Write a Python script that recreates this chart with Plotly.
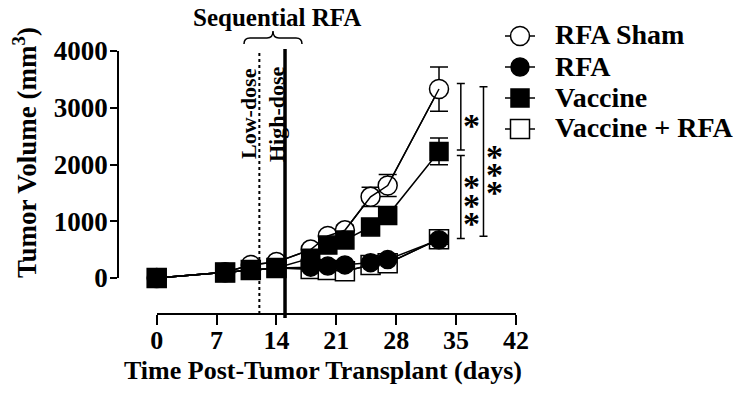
import plotly.graph_objects as go

# ---------------- data ----------------
days = [0, 8, 11, 14, 18, 20, 22, 25, 27, 33]
sham = [0, 100, 230, 280, 500, 740, 840, 1430, 1630, 3330]
sham_err = [0, 20, 30, 40, 60, 80, 90, 170, 195, 390]
rfa = [0, 95, 140, 175, 190, 210, 230, 270, 325, 675]
rfa_err = [0, 15, 20, 25, 30, 30, 35, 40, 50, 80]
vaccine = [0, 96, 140, 175, 350, 580, 670, 900, 1100, 2230]
vaccine_err = [0, 20, 25, 30, 50, 70, 80, 100, 120, 235]
vacc_rfa = [0, 95, 140, 175, 160, 140, 120, 230, 260, 685]
vacc_rfa_err = [0, 15, 20, 25, 30, 30, 30, 40, 50, 90]

series_names = ["RFA Sham", "RFA", "Vaccine", "Vaccine + RFA"]
x_ticks = [0, 7, 14, 21, 28, 35, 42]
y_ticks = [0, 1000, 2000, 3000, 4000]
low_dose_day = 12
high_dose_day = 15

# significance brackets: (x day, y from, y to)
sig_brackets = [(35.55, 2257, 3426), (35.55, 696, 2158), (38.2, 737, 3368)]
# stars: (x day, y value)
sig_stars = [(36.85, 2830), (36.85, 1749), (36.85, 1426), (36.85, 1105),
             (39.45, 2275), (39.45, 1965), (39.45, 1649)]

# ---------------- layout geometry ----------------
FIG_W, FIG_H = 744, 401
L, R, T, B = 118, 228, 51, 87
W = FIG_W - L - R
H = FIG_H - T - B


def px(x):
    return (x - L) / W


def py(y):
    return (FIG_H - B - y) / H


FONT = "Liberation Serif"
BLACK = "black"

fig = go.Figure()

styles = {
    "RFA Sham": dict(symbol="circle", color="white", size=19),
    "RFA": dict(symbol="circle", color=BLACK, size=18),
    "Vaccine": dict(symbol="square", color=BLACK, size=18),
    "Vaccine + RFA": dict(symbol="square", color="white", size=19),
}
data_map = {
    "RFA Sham": (sham, sham_err),
    "RFA": (rfa, rfa_err),
    "Vaccine": (vaccine, vaccine_err),
    "Vaccine + RFA": (vacc_rfa, vacc_rfa_err),
}

draw_order = ["RFA Sham", "Vaccine + RFA", "RFA", "Vaccine"]
for name in draw_order:
    vals, errs = data_map[name]
    st = styles[name]
    fig.add_trace(go.Scatter(
        x=days, y=vals, name=name, mode="lines+markers",
        line=dict(color=BLACK, width=1.5),
        marker=dict(symbol=st["symbol"], size=st["size"], color=st["color"],
                    line=dict(color=BLACK, width=1.5)),
        error_y=dict(type="data", array=errs, visible=True, color=BLACK,
                     thickness=1.5, width=9),
        cliponaxis=False, showlegend=False,
    ))

# line overlays (lines drawn over open markers)
for name in ["RFA Sham", "Vaccine + RFA"]:
    vals, _ = data_map[name]
    fig.add_trace(go.Scatter(x=days, y=vals, mode="lines",
                             line=dict(color=BLACK, width=1.5),
                             showlegend=False, hoverinfo="skip"))

shapes = []
annotations = []

# vertical dose lines
shapes.append(dict(type="line", xref="x", yref="paper", x0=low_dose_day, x1=low_dose_day,
                   y0=0, y1=1, line=dict(color=BLACK, width=2, dash="3px,3px")))
shapes.append(dict(type="line", xref="x", yref="paper", x0=high_dose_day, x1=high_dose_day,
                   y0=py(318), y1=py(49), line=dict(color=BLACK, width=3.5)))

# significance brackets
cap = 4 / (359 / 42)
for xb, y0, y1 in sig_brackets:
    shapes.append(dict(type="line", xref="x", yref="y", x0=xb, x1=xb, y0=y0, y1=y1,
                       line=dict(color=BLACK, width=1.5)))
    for yy in (y0, y1):
        shapes.append(dict(type="line", xref="x", yref="y", x0=xb - cap, x1=xb + cap,
                           y0=yy, y1=yy, line=dict(color=BLACK, width=1.5)))
for xs, ys in sig_stars:
    annotations.append(dict(x=xs, y=ys, xref="x", yref="y", text="*", showarrow=False,
                            font=dict(family=FONT, size=34, color=BLACK, weight="bold"),
                            xanchor="center", yanchor="middle", yshift=-8))

# curly brace above
pts = [(244, 44), (244, 38), (250, 38), (267, 38), (273, 38), (273, 31), (273, 38),
       (279, 38), (296, 38), (302, 38), (302, 44)]
P = [f"{px(a):.5f},{py(b):.5f}" for a, b in pts]
path = (f"M {P[0]} Q {P[1]} {P[2]} L {P[3]} Q {P[4]} {P[5]} Q {P[6]} {P[7]} "
        f"L {P[8]} Q {P[9]} {P[10]}")
shapes.append(dict(type="path", xref="paper", yref="paper", path=path,
                   line=dict(color=BLACK, width=1.5)))

annotations.append(dict(x=px(277), y=py(17), xref="paper", yref="paper",
                        text="Sequential RFA", showarrow=False,
                        font=dict(family=FONT, size=25, color=BLACK, weight="bold"),
                        xanchor="center", yanchor="middle"))
annotations.append(dict(x=px(248), y=py(114), xref="paper", yref="paper",
                        text="Low-dose", showarrow=False, textangle=-90,
                        font=dict(family=FONT, size=22, color=BLACK, weight="bold"),
                        xanchor="center", yanchor="middle"))
annotations.append(dict(x=px(276), y=py(114), xref="paper", yref="paper",
                        text="High-dose", showarrow=False, textangle=-90,
                        font=dict(family=FONT, size=22, color=BLACK, weight="bold"),
                        xanchor="center", yanchor="middle"))

# axis titles
annotations.append(dict(x=px(323), y=py(370), xref="paper", yref="paper",
                        text="Time Post-Tumor Transplant (days)", showarrow=False,
                        font=dict(family=FONT, size=26, color=BLACK, weight="bold"),
                        xanchor="center", yanchor="middle"))
annotations.append(dict(x=px(25), y=py(153), xref="paper", yref="paper",
                        text="Tumor Volume (mm<sup>3</sup>)", showarrow=False, textangle=-90,
                        font=dict(family=FONT, size=27, color=BLACK, weight="bold"),
                        xanchor="center", yanchor="middle"))

# manual legend
legend_rows = [35, 66, 97, 128]
for name, yrow in zip(series_names, legend_rows):
    st = styles[name]
    shapes.append(dict(type="line", xref="paper", yref="paper", x0=px(505), x1=px(535),
                       y0=py(yrow + 1), y1=py(yrow + 1), line=dict(color=BLACK, width=1.5)))
    s = st["size"] / 2
    shapes.append(dict(type="circle" if st["symbol"] == "circle" else "rect",
                       xref="paper", yref="paper",
                       x0=px(520 - s), x1=px(520 + s), y0=py(yrow + 1 - s), y1=py(yrow + 1 + s),
                       fillcolor=st["color"], line=dict(color=BLACK, width=1.5)))
    annotations.append(dict(x=px(553), y=py(yrow), xref="paper", yref="paper",
                            text=name, showarrow=False,
                            font=dict(family=FONT, size=28, color=BLACK, weight="bold"),
                            xanchor="left", yanchor="middle"))

fig.update_layout(
    width=FIG_W, height=FIG_H, autosize=False,
    margin=dict(l=L, r=R, t=T, b=B, pad=0),
    paper_bgcolor="white", plot_bgcolor="white",
    shapes=shapes, annotations=annotations, showlegend=False,
    xaxis=dict(range=[0, 42], domain=[px(156.7), 1], anchor="free", position=0,
               tickvals=x_ticks, ticktext=[str(t) for t in x_ticks],
               showline=True, linecolor=BLACK, linewidth=1.5,
               ticks="outside", ticklen=10, tickwidth=1.5, tickcolor=BLACK,
               ticklabelstandoff=-7,
               showgrid=False, zeroline=False,
               tickfont=dict(family=FONT, size=26, color=BLACK, weight="bold")),
    yaxis=dict(range=[0, 4000], domain=[py(278), 1], anchor="free", position=0,
               tickvals=y_ticks, ticktext=[str(t) for t in y_ticks],
               showline=True, linecolor=BLACK, linewidth=1.5,
               ticks="outside", ticklen=7, tickwidth=1.5, tickcolor=BLACK,
               ticklabelstandoff=-3,
               showgrid=False, zeroline=False,
               tickfont=dict(family=FONT, size=27, color=BLACK, weight="bold")),
)

fig.write_html("out.html", config={"displayModeBar": False},
               post_script="document.body.style.margin='0px';")
